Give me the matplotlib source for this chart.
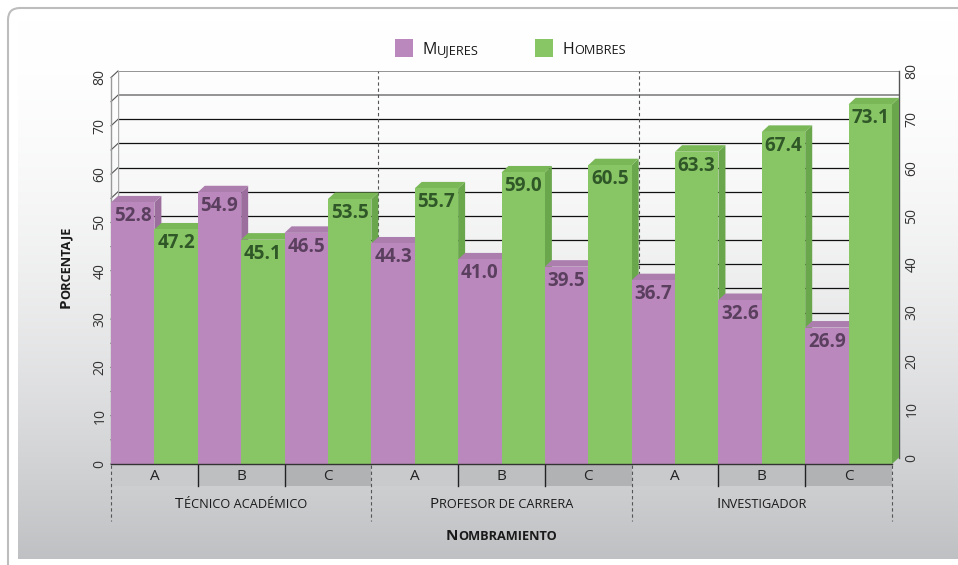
import matplotlib
matplotlib.use('Agg')
import matplotlib.pyplot as plt
import matplotlib.transforms as mtrans
from matplotlib.patches import Polygon, Rectangle, FancyBboxPatch
import numpy as np

plt.rcParams['font.family'] = ['Open Sans', 'DejaVu Sans']

# data
grupos = ['Técnico académico', 'Profesor de carrera', 'Investigador']
niveles = ['A', 'B', 'C']
mujeres = [52.8, 54.9, 46.5, 44.3, 41.0, 39.5, 36.7, 32.6, 26.9]
hombres = [47.2, 45.1, 53.5, 55.7, 59.0, 60.5, 63.3, 67.4, 73.1]
series = ['Mujeres', 'Hombres']
yticks = [0, 10, 20, 30, 40, 50, 60, 70, 80]

# colours: front, top, side, label
col_m = ('#bb88bd', '#ab7ead', '#9c6e9e', '#5b3f5f')
col_h = ('#88c565', '#79b757', '#6aa64c', '#2f5727')
box_cols = ['#c9cacc', '#bdbfc1', '#b0b2b4']

W, H = 958, 565
fig = plt.figure(figsize=(W / 100, H / 100), dpi=100)

# background axes in pixel coords
bg = fig.add_axes([0, 0, 1, 1])
bg.set_xlim(0, W)
bg.set_ylim(H, 0)
bg.axis('off')
bg.add_patch(FancyBboxPatch((8, 8), 980, 600, boxstyle='round,pad=0,rounding_size=12',
                            fc='white', ec='#bdbdbd', lw=1.5))
t = np.linspace(0, 1, 300) ** 1.8
grad = np.stack([1 - 0.25 * t, 1 - 0.245 * t, 1 - 0.235 * t], axis=1)[:, None, :]
bg.imshow(grad, extent=(18, 958, 559, 20), aspect='auto', zorder=1)

# back wall axes: x 118..899 px, y 0 -> 457.5 px, 80 -> 71 px
L, R, T, B = 118, 899, 71, 457.5
ax = fig.add_axes([L / W, (H - B) / H, (R - L) / W, (B - T) / H])
ax.set_xlim(0, 9)
ax.set_ylim(0, 80)
ax.axis('off')
ax.patch.set_alpha(0)

DX = 7 * 9 / (R - L)
DY = 6.5 * 80 / (B - T)

# walls and gridlines
for v in range(0, 85, 5):
    c = '#777777' if v >= 75 else '#111111'
    ax.plot([0, 9], [v, v], color=c, lw=1.1 if v >= 75 else 0.9, zorder=1)
    ax.plot([-DX, 0], [v - DY, v], color='#555555', lw=0.8, zorder=1, clip_on=False)
ax.plot([-DX, -DX], [-DY, 80 - DY], color='#999999', lw=1, zorder=1, clip_on=False)
ax.plot([0, 0], [0, 80], color='#aaaaaa', lw=1, zorder=1)
ax.plot([9, 9], [0, 80], color='#555555', lw=1, zorder=1, clip_on=False)
for g in range(1, len(grupos)):
    ax.plot([3 * g, 3 * g], [0, 80], color='#555555', lw=0.8, ls=(0, (3, 2.5)), zorder=1)

# 3D-ish bars
k = 0
for i in range(len(mujeres)):
    for j, (vals, cols) in enumerate([(mujeres, col_m), (hombres, col_h)]):
        v = vals[i]
        x0 = i + 0.5 * j - DX
        x1 = x0 + 0.5
        z = 2 + k * 0.01
        ax.add_patch(Polygon([(x1, -DY), (x1 + DX, 0), (x1 + DX, v + DY), (x1, v)],
                             closed=True, fc=cols[2], ec='none', zorder=z, clip_on=False))
        ax.add_patch(Polygon([(x0, v), (x1, v), (x1 + DX, v + DY), (x0 + DX, v + DY)],
                             closed=True, fc=cols[1], ec='none', zorder=z, clip_on=False))
        ax.add_patch(Rectangle((x0, -DY), 0.5, v + DY, fc=cols[0], ec='none', zorder=z,
                               clip_on=False))
        ax.text(x0 + 0.25, v - 19 * 80 / (B - T), f'{v:.1f}', ha='center', va='baseline',
                fontsize=13.5, fontweight='bold', color=cols[3], zorder=z + 0.005)
        k += 1
ax.plot([-DX, 9 - DX], [-DY, -DY], color='#333333', lw=1, zorder=3, clip_on=False)

# category band below the floor (x in data, y in pixels)
bt = mtrans.blended_transform_factory(ax.transData, bg.transData)
for i in range(9):
    x0 = i - DX
    ax.add_patch(Rectangle((x0, 465), 1, 21, transform=bt, fc=box_cols[i % 3], ec='none',
                           zorder=1, clip_on=False))
    ax.text(x0 + 0.5, 476.5, niveles[i % 3], transform=bt, ha='center', va='center',
            fontsize=11, color='#222222')
    if i % 3:
        ax.plot([x0, x0], [465, 486], transform=bt, color='#222222', lw=1, clip_on=False)
for g in range(len(grupos) + 1):
    ax.plot([3 * g - DX] * 2, [465, 521], transform=bt, color='#555555', lw=0.8,
            ls=(0, (3, 2.5)), clip_on=False)

renderer = fig.canvas.get_renderer()


def smallcaps(x, y, s, big, small, trans, ha='center', rot=0, weight='normal', color='#1a1a1a'):
    runs = []
    for ch in s:
        sm = ch.islower() or ch == ' '
        if runs and runs[-1][1] == sm:
            runs[-1][0] += ch.upper()
        else:
            runs.append([ch.upper(), sm])
    pieces = []
    for txt, sm in runs:
        tx = fig.text(0, 0, txt, fontsize=small if sm else big, fontweight=weight,
                      color=color, ha='left', va='baseline')
        pieces.append((tx, tx.get_window_extent(renderer).width))
    total = sum(w for _, w in pieces)
    off = -total / 2 if ha == 'center' else 0
    for tx, w in pieces:
        if rot == 0:
            shift = mtrans.ScaledTranslation(off / 100, 0, fig.dpi_scale_trans)
        else:
            shift = mtrans.ScaledTranslation(0, off / 100, fig.dpi_scale_trans)
        tx.set_transform(trans + shift)
        tx.set_position((x, y))
        tx.set_rotation(rot)
        tx.set_rotation_mode('anchor')
        off += w


for g, name in enumerate(grupos):
    smallcaps(3 * g + 1.5 - DX, 507.5, name, 11, 9.2, bt)

# axis tick labels
lt = mtrans.blended_transform_factory(bg.transData, ax.transData)
for v in yticks:
    fig.text(100, v - DY, str(v), transform=lt, rotation=90, ha='center', va='center',
             fontsize=10, color='#333333')
    fig.text(912, v, str(v), transform=lt, rotation=90, ha='center', va='center',
             fontsize=10, color='#333333')

# axis titles
smallcaps(70, 267.5, 'Porcentaje', 11, 9.2, bg.transData, rot=90, weight='bold')
smallcaps(501, 540, 'Nombramiento', 11, 9.2, bg.transData, weight='bold')

# legend
for name, cols, xs in [(series[0], col_m, 395), (series[1], col_h, 535)]:
    bg.add_patch(Rectangle((xs, 39), 18, 18, fc=cols[0], ec='none', zorder=3))
    smallcaps(xs + 28, 54.3, name, 11.5, 9.2, bg.transData, ha='left')

fig.savefig('out.png', dpi=100)
